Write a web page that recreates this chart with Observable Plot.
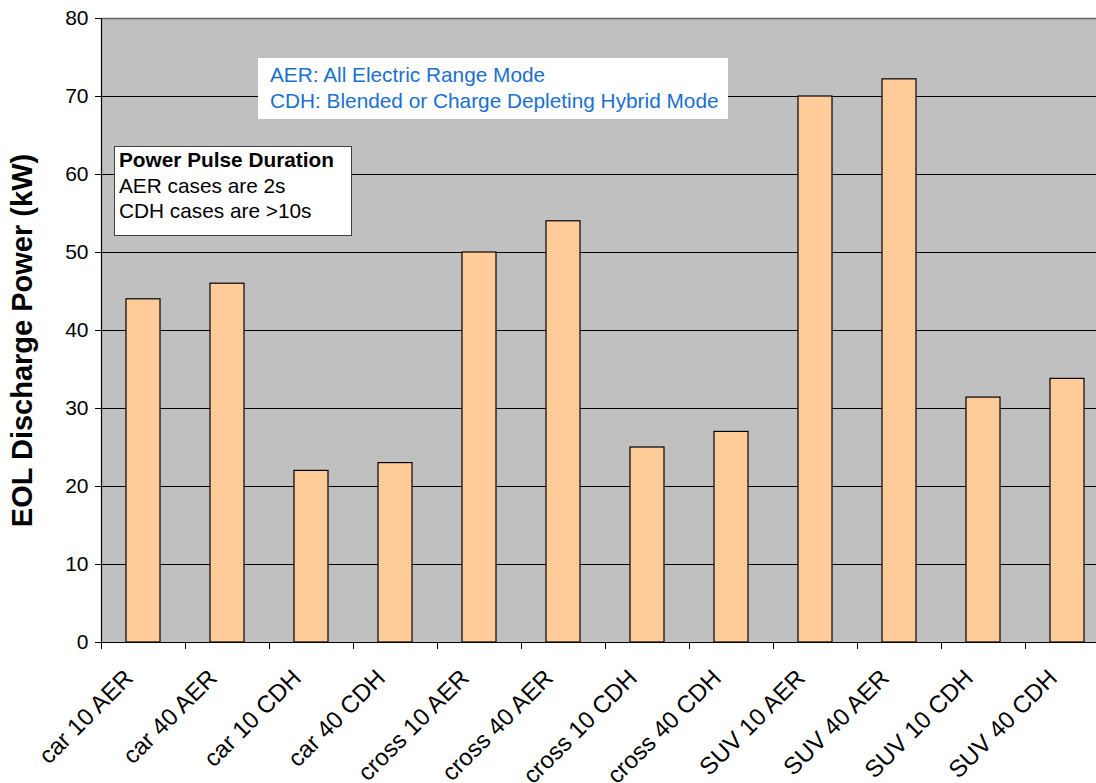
<!DOCTYPE html>
<html>
<head>
<meta charset="utf-8">
<script src="https://cdn.jsdelivr.net/npm/d3@7"></script>
<script src="https://cdn.jsdelivr.net/npm/@observablehq/plot@0.6"></script>
<style>
  html, body { margin: 0; padding: 0; background: #fff; }
  body { font-family: "Liberation Sans", Arial, sans-serif; }
  #wrap { position: relative; width: 1096px; height: 783px; overflow: hidden; }
  .note { position: absolute; background: #fff; font-size: 20.8px; line-height: 25.5px; box-sizing: border-box; white-space: nowrap; }
  #modes { left: 258px; top: 58px; width: 470px; height: 61px; color: #1a6fd0; padding: 4px 0 0 12px; }
  #pulse { left: 114px; top: 146px; width: 238px; height: 90px; color: #000; border: 1px solid #404040; padding: 0 0 0 4px; }
  #pulse b { font-weight: bold; }
</style>
</head>
<body>
<div id="wrap">
  <div id="chart"></div>
  <div class="note" id="modes"></div>
  <div class="note" id="pulse"></div>
</div>
<script>
const categories = ["car 10 AER", "car 40 AER", "car 10 CDH", "car 40 CDH", "cross 10 AER", "cross 40 AER", "cross 10 CDH", "cross 40 CDH", "SUV 10 AER", "SUV 40 AER", "SUV 10 CDH", "SUV 40 CDH"];
const values = [44, 46, 22, 23, 50, 54, 25, 27, 70, 72.2, 31.4, 33.8];
const yTicks = [0, 10, 20, 30, 40, 50, 60, 70, 80];
const yLabel = "EOL Discharge Power (kW)";
const modeNotes = ["AER: All Electric Range Mode", "CDH: Blended or Charge Depleting Hybrid Mode"];
const pulseTitle = "Power Pulse Duration";
const pulseNotes = ["AER cases are 2s", "CDH cases are >10s"];

const data = categories.map((c, i) => ({category: c, value: values[i]}));

const chart = Plot.plot({
  width: 1096,
  height: 783,
  marginTop: 18,
  marginBottom: 141,
  marginLeft: 101,
  marginRight: 0,
  style: {fontFamily: "'Liberation Sans', Arial, sans-serif", background: "#fff", overflow: "visible"},
  x: {domain: categories, range: [101, 1109], padding: 0},
  y: {domain: [0, 80], range: [642, 18]},
  marks: [
    Plot.frame({fill: "#c0c0c0"}),
    Plot.ruleY(yTicks.filter(d => d > 0 && d < 80), {stroke: "#000", strokeWidth: 1}),
    Plot.ruleY([80], {stroke: "#666", strokeWidth: 1.5}),
    Plot.barY(data, {x: "category", y: "value", fill: "#ffcc99", stroke: "#000", strokeWidth: 1.2, insetLeft: 25, insetRight: 25}),
    Plot.ruleY([0], {stroke: "#000", strokeWidth: 1.2}),
    Plot.frame({anchor: "left", stroke: "#000", strokeWidth: 1.2}),
    Plot.axisY({ticks: yTicks, tickSize: 6, tickPadding: 7, fontSize: 21, tickFormat: d => String(d), label: null}),
    Plot.axisX({tickSize: 7, tickFormat: () => "", dx: -42, label: null}),
    Plot.text(categories, {x: d => d, y: () => 0, text: d => d, rotate: -45, textAnchor: "end", lineAnchor: "bottom", dx: -9, dy: 37, fontSize: 24, fill: "#000"}),
    Plot.text([yLabel], {frameAnchor: "left", text: d => d, rotate: -90, textAnchor: "middle", lineAnchor: "bottom", dx: -70, dy: 10, fontSize: 29, fontWeight: "bold", fill: "#000"})
  ]
});
document.getElementById("chart").appendChild(chart);

document.getElementById("modes").innerHTML = modeNotes.map(t => `<div>${t.replace(/>/g, "&gt;")}</div>`).join("");
document.getElementById("pulse").innerHTML = `<div><b>${pulseTitle}</b></div>` + pulseNotes.map(t => `<div>${t.replace(/>/g, "&gt;")}</div>`).join("");
</script>
</body>
</html>
